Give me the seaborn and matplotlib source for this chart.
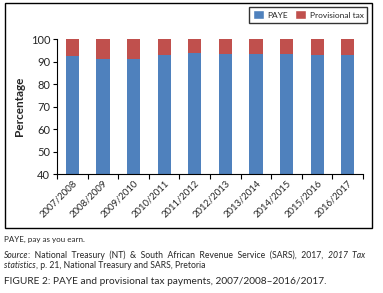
import matplotlib
matplotlib.use("Agg")
import matplotlib.pyplot as plt
import seaborn as sns
import pandas as pd
from matplotlib.patches import Rectangle, Patch

years = ["2007/2008", "2008/2009", "2009/2010", "2010/2011", "2011/2012",
         "2012/2013", "2013/2014", "2014/2015", "2015/2016", "2016/2017"]
paye = [92.6, 91.2, 91.2, 93.0, 93.9, 93.5, 93.5, 93.5, 93.0, 93.0]
provisional = [7.4, 8.8, 8.8, 7.0, 6.1, 6.5, 6.5, 6.5, 7.0, 7.0]

blue = "#4F81BD"
red = "#C0504D"

sns.set_theme(style="white")
plt.rcParams["font.family"] = ["Lato", "DejaVu Sans"]

df = pd.DataFrame({"year": years, "PAYE": paye, "Provisional tax": provisional})
df["total"] = df["PAYE"] + df["Provisional tax"]

fig = plt.figure(figsize=(3.83, 2.93), dpi=100)
ax = fig.add_axes([0.149, 0.406, 0.799, 0.460])

sns.barplot(data=df, x="year", y="total", color=red, width=0.43, ax=ax,
            saturation=1, linewidth=0)
sns.barplot(data=df, x="year", y="PAYE", color=blue, width=0.43, ax=ax,
            saturation=1, linewidth=0)

ax.set_ylim(40, 100)
ax.set_xlim(-0.5, len(years) - 0.5)
ax.set_yticks([40, 50, 60, 70, 80, 90, 100])
ax.tick_params(axis="y", labelsize=8, length=3, width=0.8, color="black",
               left=True, pad=2)
ax.set_xticks(range(len(years)))
ax.set_xticklabels(years, rotation=45, ha="right", rotation_mode="anchor",
                   fontsize=6.8)
ax.tick_params(axis="x", which="major", length=0, pad=3)
ax.set_xticks([i - 0.5 for i in range(len(years) + 1)], minor=True)
ax.tick_params(axis="x", which="minor", length=3.5, width=0.8, color="black",
               bottom=True)
ax.set_xlabel("")
ax.set_ylabel("Percentage", fontsize=8.5, fontweight="bold", labelpad=4)
for s in ["top", "right"]:
    ax.spines[s].set_visible(False)
for s in ["left", "bottom"]:
    ax.spines[s].set_color("black")
    ax.spines[s].set_linewidth(0.8)

handles = [Patch(facecolor=blue, label="PAYE"),
           Patch(facecolor=red, label="Provisional tax")]
leg = fig.legend(handles=handles, loc="upper right",
                 bbox_to_anchor=(367 / 383, 1 - 7 / 293), ncol=2,
                 fontsize=6, frameon=True, fancybox=False,
                 handlelength=1.4, handleheight=1.3, handletextpad=0.4,
                 columnspacing=0.8, borderpad=0.4, borderaxespad=0)
leg.get_frame().set_edgecolor("black")
leg.get_frame().set_linewidth(1.0)

fig.patches.append(Rectangle((5 / 383, 1 - 228 / 293), 367 / 383, 225 / 293,
                             transform=fig.transFigure, fill=False,
                             edgecolor="black", linewidth=1.0))

fig.text(4 / 383, 1 - 239 / 293, "PAYE, pay as you earn.", fontsize=5.8,
         va="center", ha="left")


def runs(pieces, x, y, size, total_width=None):
    renderer = fig.canvas.get_renderer()
    texts = []
    widths = []
    for txt, style in pieces:
        t = fig.text(x, y, txt, fontsize=size, style=style, va="center",
                     ha="left")
        bb = t.get_window_extent(renderer=renderer)
        texts.append(t)
        widths.append(bb.width / fig.bbox.width)
    extra = 0.0
    if total_width is not None and len(pieces) > 1:
        extra = (total_width - sum(widths)) / (len(pieces) - 1)
    cx = x
    for t, w in zip(texts, widths):
        t.set_x(cx)
        cx += w + extra


runs([("Source", "italic"),
      (":  National  Treasury  (NT)  &  South  African  Revenue  Service  (SARS),  2017,  ", "normal"),
      ("2017  Tax", "italic")], 4 / 383, 1 - 255 / 293, 6.2, total_width=None)
runs([("statistics", "italic"),
      (", p. 21, National Treasury and SARS, Pretoria", "normal")],
     4 / 383, 1 - 265 / 293, 6.2)

fig.text(4 / 383, 1 - 282 / 293,
         "FIGURE 2: PAYE and provisional tax payments, 2007/2008\u20132016/2017.",
         fontsize=7.3, va="center", ha="left")

fig.savefig("out.png", dpi=100)
